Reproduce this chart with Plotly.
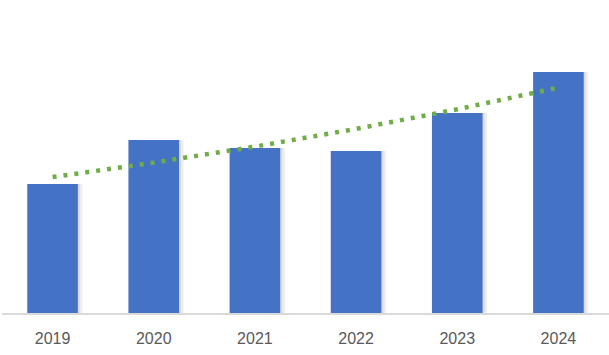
import numpy as np
import plotly.graph_objects as go

years = ["2019", "2020", "2021", "2022", "2023", "2024"]
values = [12.9, 17.3, 16.5, 16.2, 20.0, 24.1]

# exponential trendline fitted to the bar values (as in a spreadsheet trendline)
xi = np.arange(len(values))
b, ln_a = np.polyfit(xi, np.log(values), 1)
trend = [float(np.exp(ln_a + b * i)) for i in xi]

cat_px = 607 / 6.0  # pixel width of one category

fig = go.Figure()
# soft shadow behind the bars
fig.add_trace(go.Bar(
    x=years, y=values,
    width=0.5 + 4 / cat_px, offset=-0.25 + 0.5 / cat_px,
    marker=dict(color="rgba(0,0,0,0.07)", line=dict(width=0)),
    showlegend=False, hoverinfo="skip",
))
fig.add_trace(go.Bar(
    x=years, y=values,
    width=0.5 + 2 / cat_px, offset=-0.25,
    marker=dict(color="rgba(0,0,0,0.08)", line=dict(width=0)),
    showlegend=False, hoverinfo="skip",
))
fig.add_trace(go.Bar(
    x=years, y=values,
    width=0.5, offset=-0.25,
    marker=dict(color="#4472C4", line=dict(width=0)),
    showlegend=False, hoverinfo="skip",
))
fig.add_trace(go.Scatter(
    x=years, y=trend, mode="lines",
    line=dict(color="#70AD47", width=4.5, dash="4px,7px"),
    showlegend=False, hoverinfo="skip",
))

fig.update_layout(
    width=609, height=355,
    margin=dict(l=2, r=0, t=0, b=42),
    paper_bgcolor="white", plot_bgcolor="white",
    barmode="overlay",
    xaxis=dict(
        type="category", range=[-0.5, 5.5],
        showline=True, linecolor="#D9D9D9", linewidth=1.5,
        showgrid=False, zeroline=False, ticks="",
        tickfont=dict(family="Liberation Sans", size=16, color="#595959"),
        ticklabelstandoff=10,
    ),
    yaxis=dict(
        range=[0, 31.3], visible=False, showgrid=False, zeroline=False,
    ),
)

fig.write_html(
    "out.html",
    config={"displayModeBar": False, "staticPlot": True},
    post_script="document.body.style.margin='0';document.body.style.padding='0';",
)
